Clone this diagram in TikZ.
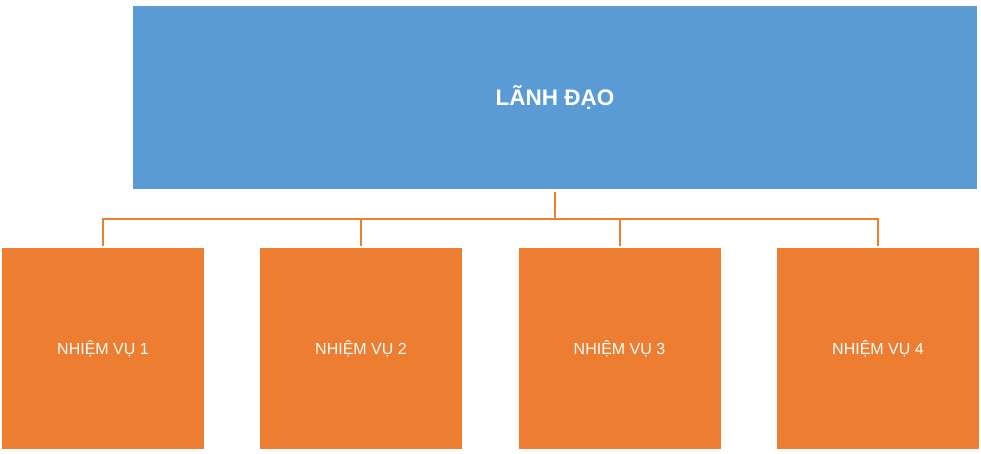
\documentclass[tikz,border=0pt]{standalone}
\usepackage{fontspec}
\setmainfont{Liberation Sans}
\usepackage{xcolor}
\usetikzlibrary{positioning}
\definecolor{leadblue}{HTML}{5B9BD5}
\definecolor{taskorange}{HTML}{ED7D31}

\begin{document}
\begin{tikzpicture}[x=1pt,y=-1pt,
    box/.style={inner sep=0pt,text=white,align=center},
    lead/.style={box,fill=leadblue,minimum width=844pt,minimum height=183pt,font=\fontsize{22.5}{26}\selectfont\bfseries},
    task/.style={box,fill=taskorange,minimum width=202pt,minimum height=201pt,font=\fontsize{16}{19}\selectfont},
    link/.style={draw=taskorange,line width=2pt}]
    \useasboundingbox (0,0) rectangle (981,454);
    \node[lead] (boss) at (555,97.5) {LÃNH ĐẠO};
    \node[task] (task1) at (103,348.5) {NHIỆM VỤ 1};
    \node[task] (task2) at (361,348.5) {NHIỆM VỤ 2};
    \node[task] (task3) at (619.5,348.5) {NHIỆM VỤ 3};
    \node[task] (task4) at (878,348.5) {NHIỆM VỤ 4};
    \coordinate (bus) at (555,219);
    \draw[link,shorten <=3pt] (boss.south) -- (bus);
    \draw[link,shorten >=2pt] (bus) -| (task1.north);
    \draw[link,shorten >=2pt] (bus) -| (task2.north);
    \draw[link,shorten >=2pt] (bus) -| (task3.north);
    \draw[link,shorten >=2pt] (bus) -| (task4.north);
  \end{tikzpicture}
\end{document}
